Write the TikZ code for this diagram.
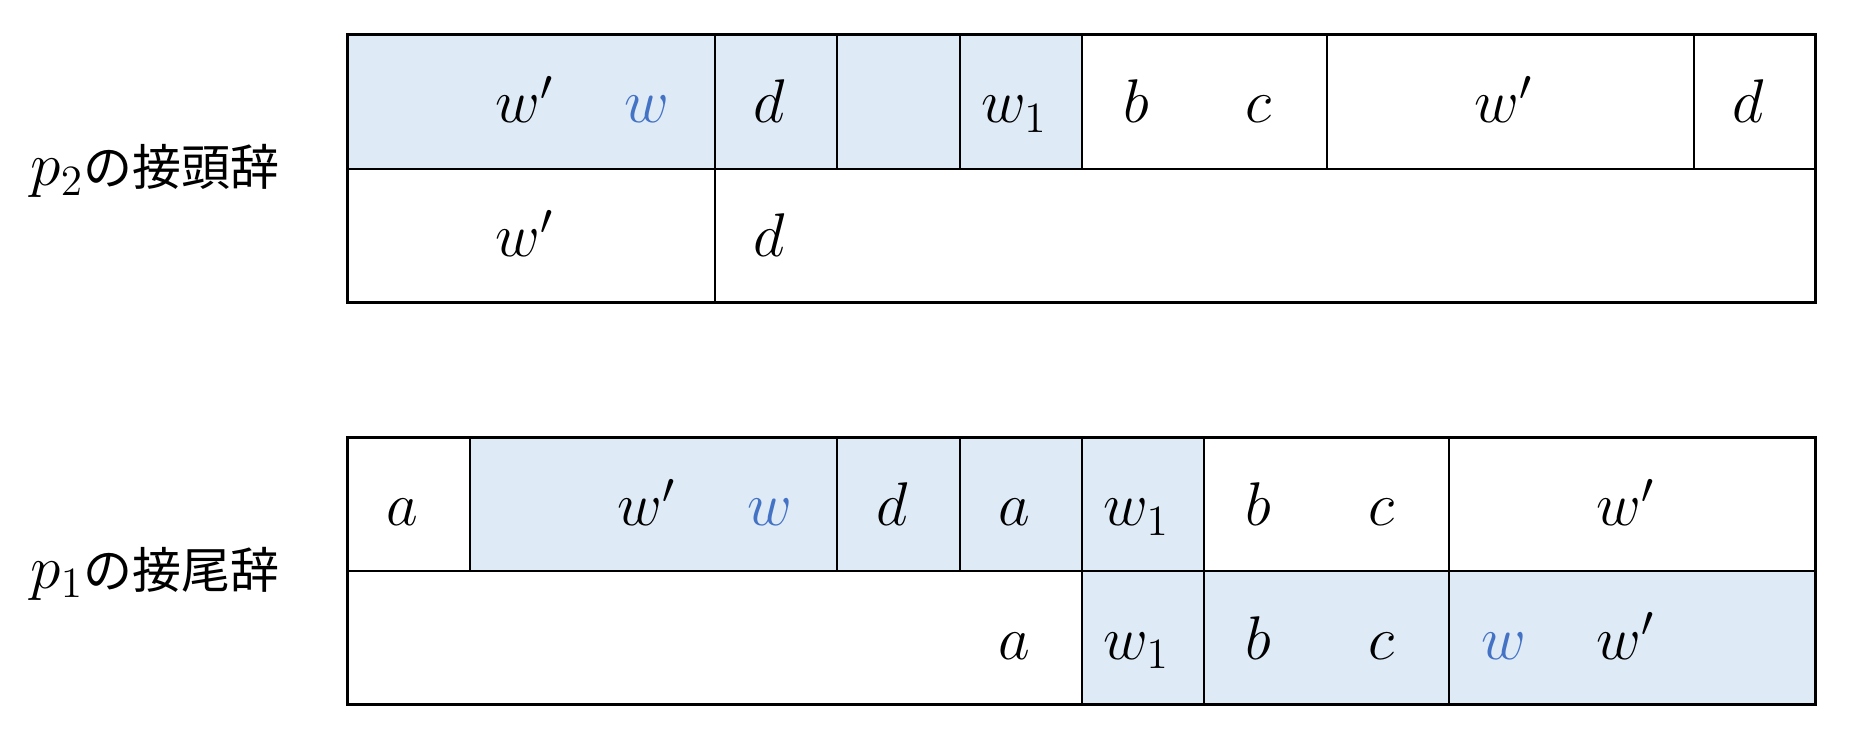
\documentclass[tikz,border=0pt]{standalone}
\usepackage{fix-cm}
\usepackage{fontspec}
\newfontfamily\jpfont{Noto Sans CJK JP}
\definecolor{cellblue}{HTML}{DEEAF6}
\definecolor{wblue}{HTML}{4472C4}
\tikzset{
  inner/.style={line width=0.6pt, black},
  outer/.style={line width=0.9pt, black},
  sym/.style={anchor=base, inner sep=0pt, xshift=-2pt, font=\fontsize{18.5}{22}\selectfont},
  bsym/.style={sym, text=wblue},
  lbl/.style={anchor=base west, inner sep=0pt, font=\fontsize{18.5}{22}\selectfont}
}
\begin{document}
\begin{tikzpicture}[x=0.3pt, y=-0.3pt]
\useasboundingbox (0,0) rectangle (1855,733);
% labels
\node[lbl] (lab2) at (30,186) {$p_2$\fontsize{14.7}{18}\selectfont\jpfont の接頭辞};
\node[lbl] (lab1) at (30,588) {$p_1$\fontsize{14.7}{18}\selectfont\jpfont の接尾辞};
\begin{scope}[xshift=104.4pt, x=36.7pt]
% ---------- top table ----------
\fill[cellblue] (0,35) rectangle (6,169);
\draw[inner] (3,35)--(3,303) (4,35)--(4,169) (5,35)--(5,169) (6,35)--(6,169)
  (8,35)--(8,169) (11,35)--(11,169) (0,169)--(12,169);
\draw[outer] (0,35) rectangle (12,303);
\node[sym]  (t1) at (1.5,123) {$w'$};
\node[bsym] (t2) at (2.5,123) {$w$};
\node[sym]  (t3) at (3.5,123) {$d$};
\node[sym]  (t4) at (5.5,123) {$w_1$};
\node[sym]  (t5) at (6.5,123) {$b$};
\node[sym]  (t6) at (7.5,123) {$c$};
\node[sym]  (t7) at (9.5,123) {$w'$};
\node[sym]  (t8) at (11.5,123) {$d$};
\node[sym]  (u1) at (1.5,257) {$w'$};
\node[sym]  (u2) at (3.5,257) {$d$};
% ---------- bottom table ----------
\fill[cellblue] (1,438) rectangle (7,571);
\fill[cellblue] (6,571) rectangle (12,704);
\draw[inner] (1,438)--(1,571) (4,438)--(4,571) (5,438)--(5,571) (6,438)--(6,704)
  (7,438)--(7,704) (9,438)--(9,704) (0,571)--(12,571);
\draw[outer] (0,438) rectangle (12,704);
\node[sym]  (b1) at (0.5,526) {$a$};
\node[sym]  (b2) at (2.5,526) {$w'$};
\node[bsym] (b3) at (3.5,526) {$w$};
\node[sym]  (b4) at (4.5,526) {$d$};
\node[sym]  (b5) at (5.5,526) {$a$};
\node[sym]  (b6) at (6.5,526) {$w_1$};
\node[sym]  (b7) at (7.5,526) {$b$};
\node[sym]  (b8) at (8.5,526) {$c$};
\node[sym]  (b9) at (10.5,526) {$w'$};
\node[sym]  (c1) at (5.5,659) {$a$};
\node[sym]  (c2) at (6.5,659) {$w_1$};
\node[sym]  (c3) at (7.5,659) {$b$};
\node[sym]  (c4) at (8.5,659) {$c$};
\node[bsym] (c5) at (9.5,659) {$w$};
\node[sym]  (c6) at (10.5,659) {$w'$};
\end{scope}
\end{tikzpicture}
\end{document}
